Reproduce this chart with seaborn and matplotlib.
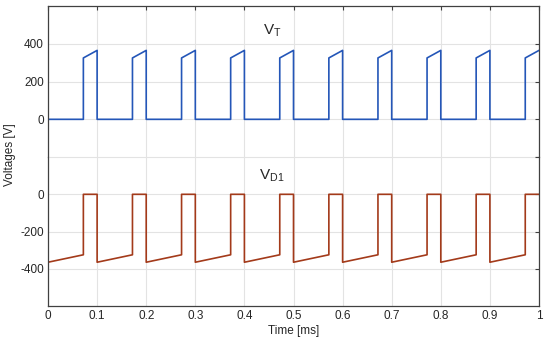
import numpy as np
import pandas as pd
import matplotlib
matplotlib.use("Agg")
import matplotlib.pyplot as plt
import seaborn as sns

# switching instants [ms]
t_on = [0.072, 0.172, 0.272, 0.372, 0.472, 0.572, 0.672, 0.772, 0.872, 0.972]
t_off = [0.0, 0.1, 0.2, 0.3, 0.4, 0.5, 0.6, 0.7, 0.8, 0.9, 1.0]
# voltage levels [V]
vt_on_start = 325
vt_on_end = 365
vd_off_start = -365
vd_off_end = -325

xticks = [0, 0.1, 0.2, 0.3, 0.4, 0.5, 0.6, 0.7, 0.8, 0.9, 1]
xticklabels = ["0", "0.1", "0.2", "0.3", "0.4", "0.5", "0.6", "0.7", "0.8", "0.9", "1"]

# build the waveforms from the switching instants
t, vt, vd = [0.0], [vt_on_end], [0.0]
for i, toff in enumerate(t_off[:-1]):
    ton = t_on[i]
    t += [toff, ton, ton, t_off[i + 1]]
    vt += [0, 0, vt_on_start, vt_on_end]
    vd += [vd_off_start, vd_off_end, 0, 0]
wave = pd.DataFrame({"t": t, "vt": vt, "vd": vd})

sns.set_style("whitegrid")
plt.rcParams["font.family"] = ["Liberation Sans", "DejaVu Sans"]

fig = plt.figure(figsize=(5.5, 3.43), dpi=100)
ax1 = fig.add_axes([0.0873, 0.542, 0.8927, 0.4405])
ax2 = fig.add_axes([0.0873, 0.108, 0.8927, 0.434])

sns.lineplot(data=wave, x="t", y="vt", sort=False, estimator=None,
             color="#2456b8", lw=1.2, ax=ax1)
sns.lineplot(data=wave, x="t", y="vd", sort=False, estimator=None,
             color="#a33a1a", lw=1.2, ax=ax2)

ax1.set_ylim(-200, 600)
ax2.set_ylim(-600, 200)
ax1.set_yticks([-200, 0, 200, 400])
ax1.set_yticklabels(["", "0", "200", "400"])
ax2.set_yticks([-400, -200, 0, 200])
ax2.set_yticklabels(["-400", "-200", "0", ""])

for ax in (ax1, ax2):
    ax.set_xlim(0, 1)
    ax.set_xticks(xticks)
    ax.grid(True, color="#e3e3e3", lw=0.8)
    ax.tick_params(direction="in", length=3, width=0.8, color="#404040",
                   labelsize=8.5, top=True, right=True, pad=3)
    for s in ax.spines.values():
        s.set_color("#404040")
        s.set_linewidth(0.9)
    ax.set_xlabel("")
    ax.set_ylabel("")

ax1.set_xticklabels([])
ax1.spines["bottom"].set_visible(False)
ax2.spines["top"].set_visible(False)
ax1.tick_params(bottom=False)
ax2.tick_params(top=False)
ax2.set_xticklabels(xticklabels)

ax1.text(0.437, 470, r"V$_\mathregular{T}$", fontsize=11, ha="left", va="center")
ax2.text(0.43, 100, r"V$_\mathregular{D1}$", fontsize=11, ha="left", va="center")

ax2.set_xlabel("Time [ms]", fontsize=8.5, labelpad=2)
fig.text(0.018, 0.55, "Voltages [V]", rotation=90, fontsize=8.5,
         ha="center", va="center")

fig.savefig("out.png", dpi=100)
